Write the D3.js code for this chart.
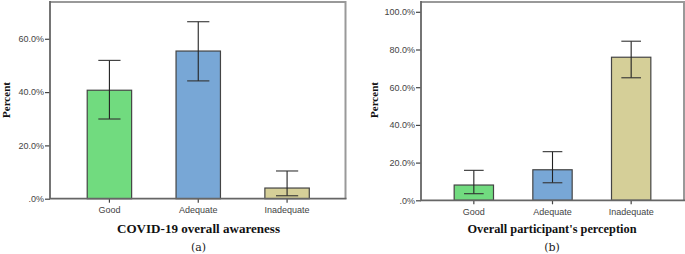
<!DOCTYPE html>
<html><head><meta charset="utf-8">
<script src="https://cdn.jsdelivr.net/npm/d3@7"></script>
<style>body{margin:0;background:#fff}svg{display:block}</style>
</head><body>
<svg id="c" width="685" height="254"></svg>
<script>
const categories = ["Good", "Adequate", "Inadequate"];
const colors = ["#71db7f", "#78a7d6", "#d5cf98"];
// Panel (a): COVID-19 overall awareness
const awareValues = [40.7, 55.4, 4.0];
const awareLow = [29.9, 44.2, 1.1];
const awareHigh = [51.9, 66.4, 10.4];
const awareTicks = [0, 20, 40, 60];
// Panel (b): Overall participant's perception
const percValues = [8.1, 16.2, 75.9];
const percLow = [3.5, 9.3, 65.0];
const percHigh = [15.9, 25.8, 84.4];
const percTicks = [0, 20, 40, 60, 80, 100];

const svg = d3.select("#c");
const fmt = v => (v === 0 ? ".0%" : v.toFixed(1) + "%");

function panel(o) {
  const g = svg.append("g");
  const y = d3.scaleLinear().domain([0, o.ymax]).range([o.bottom, o.top]);
  const x = d3.scaleBand().domain(categories).range([o.bx0, o.bx1]).paddingInner(0.5).paddingOuter(0.25);
  // frame top/right
  g.append("path").attr("d", `M${o.left},${o.top}H${o.right}V${o.bottom}`)
    .attr("fill", "none").attr("stroke", "#999").attr("stroke-width", 2);
  // bars
  g.selectAll("rect.bar").data(categories).join("rect")
    .attr("x", d => x(d)).attr("width", x.bandwidth())
    .attr("y", (d, i) => y(o.values[i])).attr("height", (d, i) => y(0) - y(o.values[i]))
    .attr("fill", (d, i) => colors[i]).attr("stroke", "#444").attr("stroke-width", 1.2);
  // error bars
  const cw = x.bandwidth() / 2;
  categories.forEach((c, i) => {
    const cx = x(c) + x.bandwidth() / 2;
    g.append("line").attr("x1", cx).attr("x2", cx).attr("y1", y(o.high[i])).attr("y2", y(o.low[i]))
      .attr("stroke", "#222").attr("stroke-width", 1.1);
    [o.high[i], o.low[i]].forEach(v => {
      g.append("line").attr("x1", cx - cw / 2).attr("x2", cx + cw / 2).attr("y1", y(v)).attr("y2", y(v))
        .attr("stroke", "#333").attr("stroke-width", 1.1);
    });
  });
  // y axis
  const ya = g.append("g").attr("transform", `translate(${o.left},0)`)
    .call(d3.axisLeft(y).tickValues(o.ticks).tickFormat(fmt).tickSize(5).tickSizeOuter(0));
  ya.select(".domain").remove();
  ya.selectAll(".tick line").attr("stroke", "#444").attr("stroke-width", 1.2);
  ya.selectAll(".tick text").attr("x", -6).attr("fill", "#444")
    .style("font-family", "'Liberation Sans', Arial, sans-serif").style("font-size", "9px");
  // x axis
  const xa = g.append("g").attr("transform", `translate(0,${o.bottom})`)
    .call(d3.axisBottom(x).tickSize(4).tickSizeOuter(0));
  xa.select(".domain").remove();
  xa.selectAll(".tick line").attr("stroke", "#444").attr("stroke-width", 1.2);
  xa.selectAll(".tick text").attr("y", 8).attr("fill", "#444")
    .style("font-family", "'Liberation Sans', Arial, sans-serif").style("font-size", "9px");
  // axis lines
  g.append("path").attr("d", `M${o.left},${o.top - 1}V${o.bottom}H${o.right + 1}`)
    .attr("fill", "none").attr("stroke", "#666").attr("stroke-width", 1.8);
  // labels
  g.append("text").attr("transform", `translate(${o.ylabX},${o.ylabY}) rotate(-90)`)
    .attr("text-anchor", "middle").attr("font-family", "'Liberation Serif', serif")
    .attr("font-weight", "bold").attr("font-size", 11).attr("fill", "#111").text("Percent");
  g.append("text").attr("x", o.titleX).attr("y", 233).attr("text-anchor", "middle")
    .attr("font-family", "'Liberation Serif', serif").attr("font-weight", "bold")
    .attr("font-size", 12.5).attr("fill", "#111")
    .attr("textLength", o.titleW).attr("lengthAdjust", "spacingAndGlyphs").text(o.title);
  g.append("text").attr("x", o.titleX).attr("y", 251).attr("text-anchor", "middle")
    .attr("font-family", "'DejaVu Serif', serif").attr("font-size", 11).attr("fill", "#222").text(o.tag);
}

panel({left: 50, right: 345.5, top: 2, bottom: 198.7, ymax: 73.8,
  bx0: 65, bx1: 331.5, values: awareValues, low: awareLow, high: awareHigh, ticks: awareTicks,
  ylabX: 9.5, ylabY: 100, titleX: 198.5, titleW: 163, title: "COVID-19 overall awareness", tag: "(a)"});
panel({left: 421, right: 684, top: 2, bottom: 200.3, ymax: 105.2,
  bx0: 434.5, bx1: 670.5, values: percValues, low: percLow, high: percHigh, ticks: percTicks,
  ylabX: 377.5, ylabY: 100, titleX: 552, titleW: 169, title: "Overall participant's perception", tag: "(b)"});
</script>
</body></html>
